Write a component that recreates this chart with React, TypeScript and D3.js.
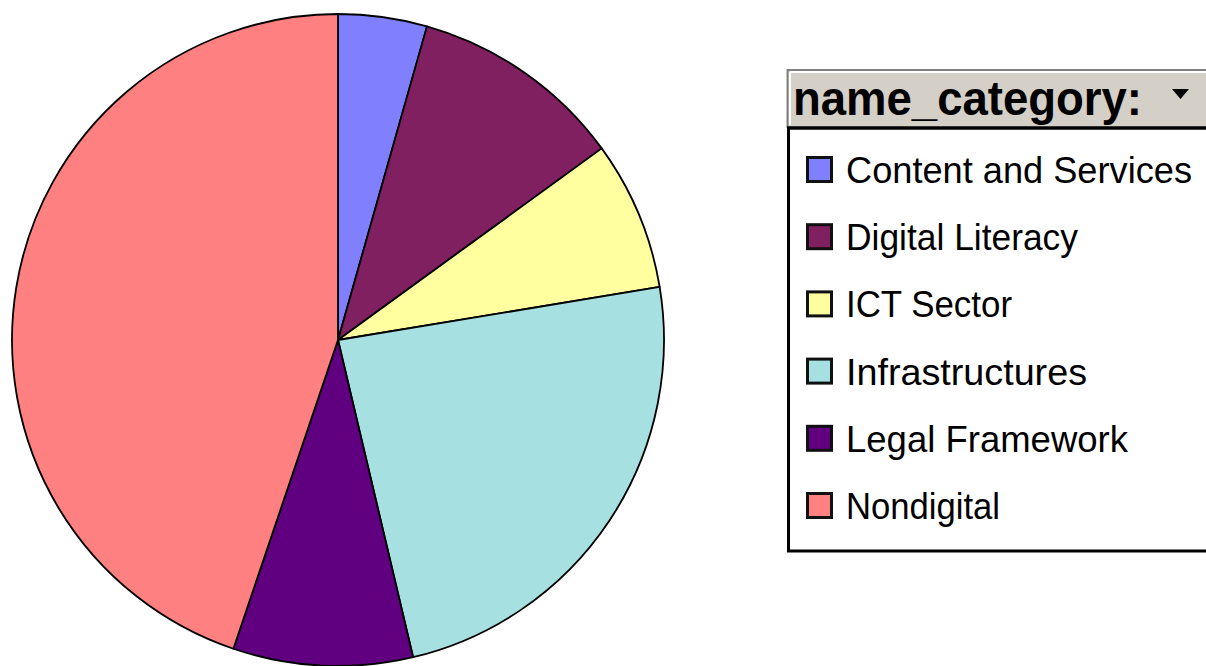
import React from "react";
import * as d3 from "d3";

const categories = ["Content and Services", "Digital Literacy", "ICT Sector", "Infrastructures", "Legal Framework", "Nondigital"];
const values = [4.4, 10.6, 7.4, 23.9, 8.9, 44.8];
const colors = ["#8080FF", "#802060", "#FFFFA0", "#A6E0E0", "#600080", "#FF8080"];
const legendTitle = "name_category:";
const labelWidths = [346, 232, 166, 241, 282, 154];

export default function App() {
  const W = 1206, H = 666;
  const cx = 338, cy = 340, r = 326;
  const pie = d3.pie<number>().value(d => d).sort(null);
  const arcs = pie(values);
  const arcGen = d3.arc<d3.PieArcDatum<number>>().innerRadius(0).outerRadius(r);

  const legX = 787, legTop = 69, headerBottom = 128, legBottom = 551;
  const rowY = d3.scaleLinear().domain([0, 5]).range([170, 506]);

  return (
    <svg width={W} height={H} style={{ position: "absolute", left: 0, top: 0, background: "#fff" }}>
      <g transform={`translate(${cx},${cy})`}>
        {arcs.map((a, i) => (
          <path key={i} d={arcGen(a) || ""} fill={colors[i]} stroke="#000" strokeWidth={1.8} strokeLinejoin="round" />
        ))}
      </g>
      {/* legend header */}
      <rect x={legX} y={legTop} width={W - legX} height={headerBottom - legTop} fill="#D4D0C8" />
      <line x1={legX + 0.5} y1={legTop} x2={legX + 0.5} y2={headerBottom} stroke="#808080" strokeWidth={2} />
      <line x1={legX} y1={legTop + 1} x2={W} y2={legTop + 1} stroke="#808080" strokeWidth={2} />
      <line x1={legX + 3} y1={legTop + 3} x2={W} y2={legTop + 3} stroke="#ffffff" strokeWidth={2} />
      <line x1={legX + 3} y1={legTop + 3} x2={legX + 3} y2={headerBottom - 3} stroke="#ffffff" strokeWidth={2} />
      <text x={793} y={115} fontFamily="'Liberation Sans', Arial, sans-serif" fontWeight="bold" fontSize={48}
        textLength={349} lengthAdjust="spacingAndGlyphs" fill="#000">{legendTitle}</text>
      <path d="M1172,89 L1189,89 L1180.5,99 Z" fill="#000" />
      {/* legend body */}
      <rect x={legX + 1.5} y={headerBottom} width={W - legX + 10} height={legBottom - headerBottom} fill="#fff" stroke="#000" strokeWidth={3} />
      <line x1={legX} y1={headerBottom} x2={W} y2={headerBottom} stroke="#000" strokeWidth={3} />
      {categories.map((c, i) => (
        <g key={c}>
          <rect x={807.5} y={rowY(i) - 12.5} width={24} height={24} fill={colors[i]} stroke="#101010" strokeWidth={3} />
          <text x={846} y={rowY(i) + 13} fontFamily="'Liberation Sans', Arial, sans-serif" fontSize={36}
            textLength={labelWidths[i]} lengthAdjust="spacingAndGlyphs" fill="#000">{c}</text>
        </g>
      ))}
    </svg>
  );
}
